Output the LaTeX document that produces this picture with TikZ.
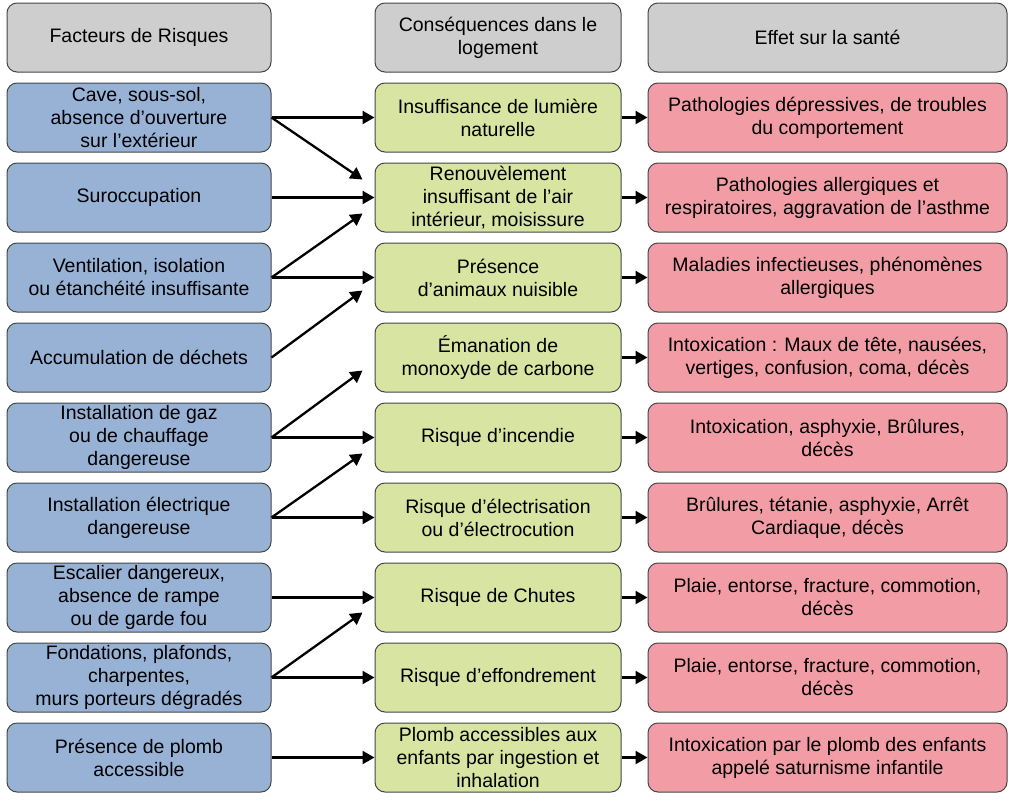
\documentclass[tikz,border=0pt]{standalone}
\usepackage{fontspec}
\setmainfont{Liberation Sans}
\usepackage{tikz}
\usetikzlibrary{arrows.meta}
\definecolor{headgray}{RGB}{206,206,206}
\definecolor{riskblue}{RGB}{152,178,214}
\definecolor{consgreen}{RGB}{215,228,162}
\definecolor{healthred}{RGB}{242,156,166}
\definecolor{boxline}{RGB}{70,70,70}
\tikzstyle{box}=[draw=boxline,line width=1pt,rounded corners=10pt,minimum height=69pt,align=center,inner sep=1pt,font=\fontsize{19.5}{23}\selectfont]
\tikzstyle{colA}=[box,minimum width=264pt]
\tikzstyle{colB}=[box,minimum width=246pt]
\tikzstyle{colC}=[box,minimum width=359pt]
\tikzstyle{link}=[line width=2.3pt,-{Triangle[length=12pt,width=13pt]}]

\begin{document}
\begin{tikzpicture}[x=1pt,y=-1pt]
  \useasboundingbox (0,0) rectangle (1013,801);
  % headers
  \node[colA,fill=headgray] (H-1) at (139,37.5) {Facteurs de Risques};
  \node[colB,fill=headgray] (H-2) at (498,37.5) {Conséquences dans le\\logement};
  \node[colC,fill=headgray] (H-3) at (827.5,37.5) {Effet sur la santé};
  % risk factors
  \foreach \n/\text in {1/{Cave, sous-sol,\\absence d’ouverture\\sur l’extérieur},
                        2/Suroccupation,
                        3/{Ventilation, isolation\\ou étanchéité insuffisante},
                        4/Accumulation de déchets,
                        5/Installation de gaz\\ou de chauffage\\dangereuse,
                        6/Installation électrique\\dangereuse,
                        7/{Escalier dangereux,\\absence de rampe\\ou de garde fou},
                        8/{Fondations, plafonds,\\charpentes,\\murs porteurs  dégradés},
                        9/Présence de plomb\\accessible}
    \node[colA,fill=riskblue] (F-\n) at (139,{37.5+80*\n}) {\text};
  % consequences
  \foreach \n/\text in {1/Insuffisance de lumière\\naturelle,
                        2/{Renouvèlement\\insuffisant de l’air\\intérieur, moisissure},
                        3/Présence\\d’animaux nuisible,
                        4/Émanation de\\monoxyde de carbone,
                        5/Risque d’incendie,
                        6/Risque d’électrisation\\ou d’électrocution,
                        7/Risque de Chutes,
                        8/Risque d’effondrement,
                        9/Plomb accessibles aux\\enfants par ingestion et\\inhalation}
    \node[colB,fill=consgreen] (C-\n) at (498,{37.5+80*\n}) {\text};
  % health effects
  \foreach \n/\text in {1/{Pathologies dépressives, de troubles\\du comportement},
                        2/{Pathologies allergiques et\\respiratoires, aggravation de l’asthme},
                        3/{Maladies infectieuses, phénomènes\\allergiques},
                        4/{Intoxication : Maux de tête, nausées,\\vertiges, confusion, coma, décès},
                        5/{Intoxication, asphyxie, Brûlures,\\décès},
                        6/{Brûlures, tétanie, asphyxie, Arrêt\\Cardiaque, décès},
                        7/{Plaie, entorse, fracture, commotion,\\décès},
                        8/{Plaie, entorse, fracture, commotion,\\décès},
                        9/Intoxication par le plomb des enfants\\appelé saturnisme infantile}
    \node[colC,fill=healthred] (E-\n) at (827.5,{37.5+80*\n}) {\text};
  % arrows
  \foreach \from/\to in {1/1,2/2,3/3,5/5,6/6,7/7,8/8,9/9}
    \draw[link] (F-\from) -- (C-\to);
  \foreach \from/\to/\dy in {1/2/-18,3/2/16,4/3/13,5/4/13,6/5/16,8/7/15}
    \draw[link] (F-\from.east) -- ([shift={(-12,\dy)}]C-\to.west);
  \foreach \n in {1,...,9}
    \draw[link] (C-\n) -- (E-\n);
\end{tikzpicture}
\end{document}
